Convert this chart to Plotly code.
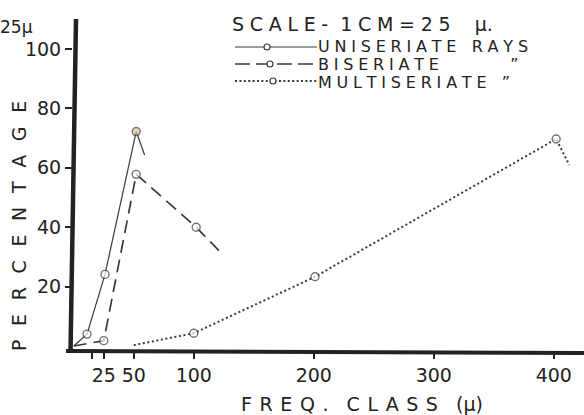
import plotly.graph_objects as go

# Ray-width frequency classes (microns) and percentage of rays in each class
uni_x = [0, 11, 26, 52, 59]
uni_y = [0, 4.0, 24.1, 72.2, 64.3]
uni_pt = [False, True, True, True, False]

bi_x = [0, 25, 52, 102, 121]
bi_y = [0, 1.8, 57.8, 40.0, 32.1]
bi_pt = [False, True, True, True, False]

multi_x = [50, 100, 201, 402, 413]
multi_y = [0.3, 4.3, 23.3, 69.7, 60.9]
multi_pt = [False, True, True, True, False]

x_tickvals = [15, 25, 50, 100, 200, 300, 400]
x_ticktext = ["", "25", "50", "100", "200", "300", "400"]
y_tickvals = [20, 40, 60, 80, 100]
y_ticktext = ["20", "40", "60", "80", "100"]

W, H = 584, 415
L, R, T, B = 73, 0, 20, 63
PW, PH = W - L - R, H - T - B

INK = "#222222"
LINE = "#3a3a3a"
FONT = "DejaVu Sans"
NB = "\u00a0"
THIN = "\u2009"
HAIR = "\u200a"


def px(xp):
    return (xp - L) / PW


def py(yp):
    return (T + PH - yp) / PH


def spaced(text, gap=THIN):
    return (NB * 2).join(gap.join(w) for w in text.split(" "))


def marker_sizes(flags, size=8):
    return [size if f else 0 for f in flags]


fig = go.Figure()

fig.add_trace(go.Scatter(
    x=uni_x, y=uni_y, mode="lines+markers", name="Uniseriate rays",
    line=dict(color=LINE, width=1.2),
    marker=dict(size=marker_sizes(uni_pt), symbol="circle",
                color=["white", "white", "white", "#d9c9a6", "white"],
                line=dict(color=LINE, width=1.4)),
))
fig.add_trace(go.Scatter(
    x=bi_x, y=bi_y, mode="lines+markers", name="Biseriate rays",
    line=dict(color=LINE, width=1.7, dash="13px,7px"),
    marker=dict(size=marker_sizes(bi_pt), symbol="circle", color="white",
                line=dict(color=LINE, width=1.4)),
))
fig.add_trace(go.Scatter(
    x=multi_x, y=multi_y, mode="lines+markers", name="Multiseriate rays",
    line=dict(color=LINE, width=2, dash="2px,2.6px"),
    marker=dict(size=marker_sizes(multi_pt), symbol="circle", color="white",
                line=dict(color=LINE, width=1.4)),
))

shapes = []
# hand-ruled axes
shapes.append(dict(type="line", xref="paper", yref="paper",
                   x0=px(66), y0=py(351), x1=1.0, y1=py(353),
                   line=dict(color=INK, width=4), layer="above"))
shapes.append(dict(type="line", xref="paper", yref="paper",
                   x0=px(76), y0=py(19), x1=px(70.5), y1=py(353),
                   line=dict(color=INK, width=4.5), layer="above"))

# key samples
key_rows = [
    (47, "solid", 1.2, 267),
    (64, "15px,6px", 1.6, 270),
    (81, "2px,2.4px", 1.8, 273),
]
for yk, dash, wdt, mx in key_rows:
    shapes.append(dict(type="line", xref="paper", yref="paper",
                       x0=px(235), x1=px(317), y0=py(yk), y1=py(yk),
                       line=dict(color=LINE, width=wdt, dash=dash)))
    shapes.append(dict(type="circle", xref="paper", yref="paper",
                       xsizemode="pixel", ysizemode="pixel",
                       xanchor=px(mx), yanchor=py(yk),
                       x0=-3, x1=3, y0=-3, y1=3,
                       fillcolor="white", line=dict(color=LINE, width=1.2)))

annotations = []


def note(text, xp, yp, size=19, xanchor="left", angle=0, align="left"):
    annotations.append(dict(
        text=text, xref="paper", yref="paper", x=px(xp), y=py(yp),
        xanchor=xanchor, yanchor="middle", showarrow=False, textangle=angle,
        align=align, font=dict(family=FONT, size=size, color=INK)))


note(spaced("SCALE-", THIN + HAIR) + NB * 2 + spaced("1CM=25", THIN + HAIR)
     + NB * 4 + "μ.", 230, 24, size=19)

# key labels: tight line pitch
big = '<span style="font-size:16px">{}</span>'
key_lines = [
    spaced("UNISERIATE", THIN + HAIR) + NB * 3 + spaced("RAYS", THIN + HAIR),
    spaced("BISERIATE", THIN + HAIR) + NB * 14 + "\u201d",
    spaced("MULTISERIATE", THIN + HAIR) + NB * 3 + "\u201d",
]
note("<br>".join(big.format(s) for s in key_lines), 316, 64.5, size=14)

note("25μ", 35, 27, size=17, xanchor="right")
note((NB + THIN * 2).join("PERCENTAGE"), 19, 226, size=19,
     xanchor="center", angle=-90)
note(spaced("FREQ.", THIN * 2) + NB * 3 + spaced("CLASS", THIN * 2)
     + NB * 3 + "(μ)", 362, 404, size=19, xanchor="center")

fig.update_layout(
    width=W, height=H,
    margin=dict(l=L, r=R, t=T, b=B),
    paper_bgcolor="white", plot_bgcolor="white",
    showlegend=False,
    shapes=shapes, annotations=annotations,
    font=dict(family=FONT, size=19, color=INK),
)
fig.update_xaxes(
    range=[-0.67, 425.2], showline=False, showgrid=False, zeroline=False,
    tickmode="array", tickvals=x_tickvals, ticktext=x_ticktext,
    ticks="outside", ticklen=6, tickwidth=1.5, tickcolor=INK,
    tickfont=dict(family=FONT, size=19, color=INK),
)
fig.update_yaxes(
    range=[-2.02, 109.76], showline=False, showgrid=False, zeroline=False,
    tickmode="array", tickvals=y_tickvals, ticktext=y_ticktext,
    ticks="outside", ticklen=7, tickwidth=1.5, tickcolor=INK,
    tickfont=dict(family=FONT, size=19, color=INK),
)

fig.write_html("out.html")
